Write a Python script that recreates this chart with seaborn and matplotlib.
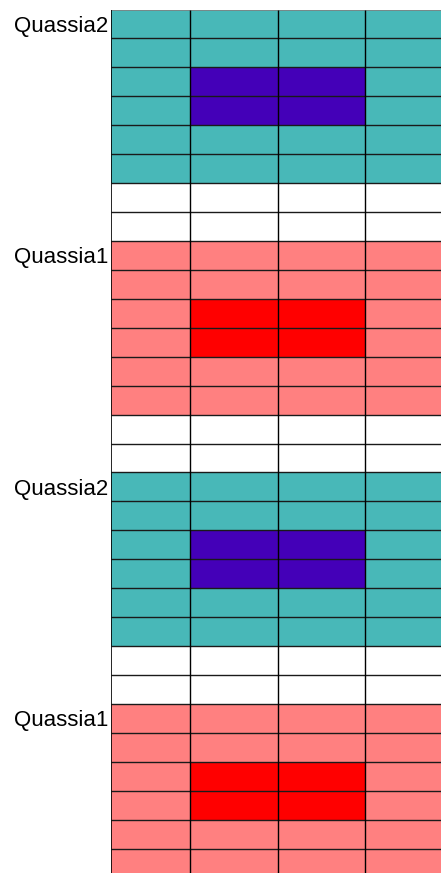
import numpy as np
import matplotlib
matplotlib.use("Agg")
import matplotlib.pyplot as plt
import seaborn as sns
from matplotlib.colors import ListedColormap

# cell codes: 0 = empty, 1 = Quassia2 base, 2 = Quassia2 core, 3 = Quassia1 base, 4 = Quassia1 core
block_labels = ["Quassia2", "Quassia1", "Quassia2", "Quassia1"]
quassia2_cells = [[1, 1, 1, 1],
                  [1, 1, 1, 1],
                  [1, 2, 2, 1],
                  [1, 2, 2, 1],
                  [1, 1, 1, 1],
                  [1, 1, 1, 1]]
quassia1_cells = [[3, 3, 3, 3],
                  [3, 3, 3, 3],
                  [3, 4, 4, 3],
                  [3, 4, 4, 3],
                  [3, 3, 3, 3],
                  [3, 3, 3, 3]]
gap_cells = [[0, 0, 0, 0],
             [0, 0, 0, 0]]

# layout: relative column widths (pixels in the reference)
col_units = [79, 88, 87, 76]
palette = ["#FFFFFF", "#48B8B8", "#4400B8", "#FF8080", "#FF0000"]

blocks = {"Quassia2": quassia2_cells, "Quassia1": quassia1_cells}
rows = []
label_rows = []
for i, name in enumerate(block_labels):
    if i > 0:
        rows += gap_cells
    label_rows.append(len(rows))
    rows += blocks[name]
grid = np.array(rows)
wide = np.repeat(grid, col_units, axis=1)

sns.set_style("white")
fig = plt.figure(figsize=(4.41, 8.73), dpi=100)
ax = fig.add_axes([111 / 441, 1 - 877.6 / 873, 330 / 441, 868.1 / 873])

sns.heatmap(wide, ax=ax, cmap=ListedColormap(palette), vmin=-0.5, vmax=4.5,
            cbar=False, xticklabels=False, yticklabels=False, linewidths=0)

edges = np.cumsum([0] + col_units)
n_rows = grid.shape[0]
ax.hlines(np.arange(1, n_rows + 1), 0, edges[-1], colors="#1a1a1a", linewidth=1.0)
ax.hlines(0, 0, edges[-1], colors="#808080", linewidth=1.2)
ax.vlines(edges[1:-1], 0, n_rows, colors="black", linewidth=1.0)
ax.vlines(0, 0, n_rows, colors="black", linewidth=1.2)

ax.set_yticks(np.array(label_rows) + 0.5)
ax.set_yticklabels(block_labels, rotation=0, fontsize=16, color="black",
                   family=["Liberation Sans", "DejaVu Sans"])
ax.tick_params(axis="y", length=0, pad=2)
ax.set_xticks([])

fig.savefig("out.png", dpi=100)
